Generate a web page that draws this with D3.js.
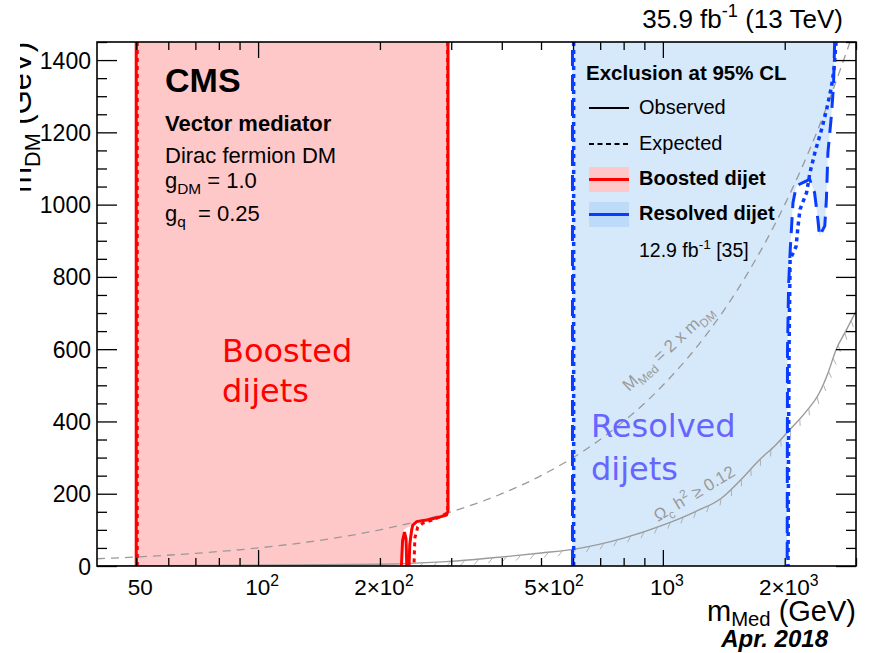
<!DOCTYPE html>
<html>
<head>
<meta charset="utf-8">
<script src="https://cdn.jsdelivr.net/npm/d3@7"></script>
<style>
  body { margin: 0; background: #fff; }
  svg { display: block; font-family: "Liberation Sans", Arial, Helvetica, sans-serif; }
  text { white-space: pre; }
</style>
</head>
<body>
<svg id="chart" width="870" height="653"></svg>
<script>
// ---- axis ranges and ticks ----
const xDomain = [40, 3000];
const yDomain = [0, 1450];
const xMajorTicks = [100, 1000];
const xMinorTicks = [50, 60, 70, 80, 90, 200, 300, 400, 500, 600, 700, 800, 900, 2000, 3000];
const xLabelValues = [50, 100, 200, 500, 1000, 2000];
const xLabelTexts = ["50", "10^2", "2×10^2", "5×10^2", "10^3", "2×10^3"];
const yMajorTicks = [0, 200, 400, 600, 800, 1000, 1200, 1400];
const yMinorTicks = [50, 100, 150, 250, 300, 350, 450, 500, 550, 650, 700, 750, 850, 900, 950,
                     1050, 1100, 1150, 1250, 1300, 1350, 1450];
const yLabelTexts = ["0", "200", "400", "600", "800", "1000", "1200", "1400"];

// ---- boosted dijet limits (m_Med, m_DM) in GeV ----
const boostedFill = [[50, 0], [50, 1450], [294.5, 1450], [294.5, 152], [292, 141], [278, 134],
                     [261, 127.5], [246.5, 123], [239.6, 112], [233, 106], [229, 100], [227, 80], [226, 0]];
const boostedObsLeft = [[50, 0], [50, 1450]];
const boostedObsRight = [[294.5, 1450], [294.5, 152], [292, 141], [278, 134], [261, 127.5],
                         [246.5, 123], [241, 113], [239.6, 100], [237, 60], [236, 0]];
const boostedObsSpike = [[226, 0], [227.5, 70], [230, 94], [232, 75], [233, 0]];
const boostedExpLeft = [[50.3, 0], [50.3, 1450]];
const boostedExpRight = [[294, 1450], [294, 147], [286, 139.5], [270, 127.5], [255.5, 119],
                         [248, 108], [244, 78], [242.7, 0]];

// ---- resolved dijet limits (12.9 fb-1) ----
const resolvedObsLeft = [[598, 0], [598, 1450]];
const resolvedObsRight = [[2657, 1450], [2640, 1330], [2608, 1246], [2557, 1144], [2535, 1015],
                          [2512, 941], [2438, 913], [2415, 959], [2370, 1033], [2305, 1070],
                          [2218, 1061], [2137, 1052], [2096, 1005], [2064, 876], [2045, 780],
                          [2032, 600], [2028, 0]];
const resolvedExpLeft = [[602, 0], [602, 1450]];
const resolvedExpRight = [[2678, 1450], [2647, 1375], [2612, 1329], [2539, 1264], [2468, 1209],
                          [2376, 1145], [2309, 1089], [2266, 1034], [2182, 987], [2157, 940],
                          [2133, 884], [2062, 848], [2050, 600], [2038, 0]];

// ---- reference curves ----
const relicMed = [40, 100, 200, 292, 400, 500, 600, 800, 1000, 1200, 1400, 1550, 1734, 1900,
                  2057, 2250, 2438, 2560, 2680, 2830, 3000];
const relicDM = [0.5, 2, 5, 12, 25, 36, 46, 77, 113, 150, 189, 236, 294, 335, 377, 425, 480,
                 535, 599, 650, 705];
const diagMed = [40, 50, 70, 100, 150, 200, 300, 400, 500, 700, 1000, 1300, 1600, 2000, 2400, 2900];
const diagDM = [20, 25, 35, 50, 75, 100, 150, 200, 250, 350, 500, 650, 800, 1000, 1200, 1450];

// ---- colours ----
const pink = "#ffc8c8", lightBlue = "#d6e9fb", legendBlue = "#bddbf8";
const red = "#ff0000", blue = "#0a3cff", grey = "#9a9a9a";

const svg = d3.select("#chart");
const L = 97, R = 856, T = 42, B = 566;
const x = d3.scaleLog().domain(xDomain).range([L, R]);
const y = d3.scaleLinear().domain(yDomain).range([B, T]);

// rich text with sub/superscripts: parts = [[text, kind], ...]
function rich(sel, parts, fs, subShift) {
  let shift = 0;
  const sub = subShift == null ? 0.28 : subShift;
  parts.forEach(([t, kind]) => {
    const target = kind === "sub" ? sub * fs : kind === "sup" ? -0.42 * fs : 0;
    sel.append("tspan")
      .attr("dy", target - shift)
      .attr("font-size", kind ? fs * 0.7 : fs)
      .text(t);
    shift = target;
  });
  return sel;
}
function parsePow(s) {
  const i = s.indexOf("^");
  return i < 0 ? [[s, ""]] : [[s.slice(0, i), ""], [s.slice(i + 1), "sup"]];
}

svg.append("defs").append("clipPath").attr("id", "plotClip")
  .append("rect").attr("x", L).attr("y", T).attr("width", R - L).attr("height", B - T);
svg.select("defs").append("clipPath").attr("id", "ytClip")
  .append("rect").attr("x", 20).attr("y", 0).attr("width", 60).attr("height", 653);

const plot = svg.append("g").attr("clip-path", "url(#plotClip)");
const line = d3.line().x(d => x(d[0])).y(d => y(d[1]));

// excluded regions
plot.append("path").attr("d", line(boostedFill) + "Z").attr("fill", pink);
const resolvedFill = resolvedObsLeft.concat(resolvedObsRight);
plot.append("path").attr("d", line(resolvedFill) + "Z").attr("fill", lightBlue);

// relic density curve with hatching on the excluded side
const relicPts = relicMed.map((m, i) => [m, relicDM[i]]);
const relicPath = plot.append("path")
  .attr("d", d3.line().x(d => x(d[0])).y(d => y(d[1])).curve(d3.curveMonotoneX)(relicPts))
  .attr("fill", "none").attr("stroke", grey).attr("stroke-width", 1.4);
(function hatch() {
  const node = relicPath.node();
  const len = node.getTotalLength();
  const g = plot.append("g").attr("stroke", "#a8a8a8").attr("stroke-width", 0.9);
  for (let s = 4; s < len - 2; s += 14) {
    const p = node.getPointAtLength(s), q = node.getPointAtLength(s + 1);
    let tx = q.x - p.x, ty = q.y - p.y;
    const n0 = Math.hypot(tx, ty); tx /= n0; ty /= n0;
    const nx = -ty, ny = tx;
    const a = Math.PI / 4, Lh = 7;
    g.append("line").attr("x1", p.x).attr("y1", p.y)
      .attr("x2", p.x + Lh * (-Math.cos(a) * tx + Math.sin(a) * nx))
      .attr("y2", p.y + Lh * (-Math.cos(a) * ty + Math.sin(a) * ny));
  }
})();

// M_Med = 2 m_DM
const diagPts = diagMed.map((m, i) => [m, diagDM[i]]);
plot.append("path")
  .attr("d", d3.line().x(d => x(d[0])).y(d => y(d[1])).curve(d3.curveMonotoneX)(diagPts))
  .attr("fill", "none").attr("stroke", grey).attr("stroke-width", 1.3)
  .attr("stroke-dasharray", "8,6");

// contour lines
function contour(data, color, dash, width) {
  plot.append("path").attr("d", line(data)).attr("fill", "none")
    .attr("stroke", color).attr("stroke-width", width)
    .attr("stroke-dasharray", dash || null);
}
contour(resolvedObsLeft, blue, "16,9", 3);
contour(resolvedObsRight, blue, "16,9", 3);
contour(resolvedExpLeft, blue, "4,4", 3.5);
contour(resolvedExpRight, blue, "4,4", 3.5);
contour(boostedObsLeft, red, null, 3);
contour(boostedObsRight, red, null, 3);
contour(boostedObsSpike, red, null, 3);
contour(boostedExpLeft, red, "4,4", 3);
contour(boostedExpRight, red, "4,4", 3);

// region labels
const dv = "'DejaVu Sans', Verdana, sans-serif";
function bigLabel(xp, yp, txt, color) {
  svg.append("text").attr("x", xp).attr("y", yp).style("font-family", dv)
    .attr("font-size", 32).attr("fill", color).text(txt);
}
bigLabel(222, 362, "Boosted", red);
bigLabel(222, 402, "dijets", red);
bigLabel(591, 437, "Resolved", "#6666ff");
bigLabel(591, 480, "dijets", "#6666ff");

// curve labels
rich(svg.append("text").attr("fill", grey).attr("transform", "translate(629,392) rotate(-43)"),
  [["M", ""], ["Med", "sub"], [" = 2 x m", ""], ["DM", "sub"]], 17);
rich(svg.append("text").attr("fill", grey).attr("transform", "translate(658,522) rotate(-31)"),
  [["Ω", ""], ["c", "sub"], [" h", ""], ["2", "sup"], [" ≥ 0.12", ""]], 17);

// CMS labels
svg.append("text").attr("x", 165).attr("y", 92).attr("font-size", 34).attr("font-weight", "bold").text("CMS");
svg.append("text").attr("x", 165).attr("y", 131).attr("font-size", 22).attr("font-weight", "bold").text("Vector mediator");
svg.append("text").attr("x", 165).attr("y", 163).attr("font-size", 22).text("Dirac fermion DM");
rich(svg.append("text").attr("x", 165).attr("y", 188), [["g", ""], ["DM", "sub"], [" = 1.0", ""]], 22);
rich(svg.append("text").attr("x", 165).attr("y", 221), [["g", ""], ["q", "sub"], ["  = 0.25", ""]], 22);

// legend
const lg = svg.append("g");
lg.append("text").attr("x", 586).attr("y", 80).attr("font-size", 20.5).attr("font-weight", "bold")
  .text("Exclusion at 95% CL");
lg.append("line").attr("x1", 589).attr("x2", 629).attr("y1", 108).attr("y2", 108)
  .attr("stroke", "#000").attr("stroke-width", 2);
lg.append("text").attr("x", 639).attr("y", 114).attr("font-size", 20).text("Observed");
lg.append("line").attr("x1", 589).attr("x2", 629).attr("y1", 144).attr("y2", 144)
  .attr("stroke", "#000").attr("stroke-width", 2).attr("stroke-dasharray", "5,3.5");
lg.append("text").attr("x", 639).attr("y", 150).attr("font-size", 20).text("Expected");
lg.append("rect").attr("x", 589).attr("y", 167).attr("width", 40).attr("height", 25).attr("fill", pink);
lg.append("line").attr("x1", 589).attr("x2", 629).attr("y1", 179.5).attr("y2", 179.5)
  .attr("stroke", red).attr("stroke-width", 3);
lg.append("text").attr("x", 639).attr("y", 185).attr("font-size", 20).attr("font-weight", "bold").text("Boosted dijet");
lg.append("rect").attr("x", 589).attr("y", 202).attr("width", 40).attr("height", 25).attr("fill", legendBlue);
lg.append("line").attr("x1", 589).attr("x2", 629).attr("y1", 214.5).attr("y2", 214.5)
  .attr("stroke", blue).attr("stroke-width", 3);
lg.append("text").attr("x", 639).attr("y", 220).attr("font-size", 20).attr("font-weight", "bold").text("Resolved dijet");
rich(lg.append("text").attr("x", 639).attr("y", 257), [["12.9 fb", ""], ["-1", "sup"], [" [35]", ""]], 19.5);

// ticks
function ticks(axisFn, scale, values, len, transform) {
  const g = svg.append("g").attr("transform", transform)
    .call(axisFn(scale).tickValues(values).tickSize(-len).tickFormat(""));
  g.select(".domain").remove();
  g.selectAll("line").attr("stroke", "#000").attr("stroke-width", 1.3);
}
ticks(d3.axisBottom, x, xMajorTicks, 16, `translate(0,${B})`);
ticks(d3.axisBottom, x, xMinorTicks, 8, `translate(0,${B})`);
ticks(d3.axisTop, x, xMajorTicks, 16, `translate(0,${T})`);
ticks(d3.axisTop, x, xMinorTicks, 8, `translate(0,${T})`);
ticks(d3.axisLeft, y, yMajorTicks, 20, `translate(${L},0)`);
ticks(d3.axisLeft, y, yMinorTicks, 10, `translate(${L},0)`);
ticks(d3.axisRight, y, yMajorTicks, 20, `translate(${R},0)`);
ticks(d3.axisRight, y, yMinorTicks, 10, `translate(${R},0)`);

// frame
svg.append("rect").attr("x", L).attr("y", T).attr("width", R - L).attr("height", B - T)
  .attr("fill", "none").attr("stroke", "#000").attr("stroke-width", 1.6);

// tick labels (labels sit slightly right of their tick, wider ones a little more)
yMajorTicks.forEach((v, i) => {
  svg.append("text").attr("x", 91).attr("y", y(v) + 8.5).attr("text-anchor", "end")
    .attr("font-size", 23).text(yLabelTexts[i]);
});
const labelShift = { 500: 13 };
xLabelValues.forEach((v, i) => {
  rich(svg.append("text").attr("x", x(v) + (labelShift[v] || 4)).attr("y", 595)
    .attr("text-anchor", "middle"), parsePow(xLabelTexts[i]), 22.5);
});

// axis titles
rich(svg.append("text").attr("x", 856).attr("y", 621).attr("text-anchor", "end"),
  [["m", ""], ["Med", "sub"], [" (GeV)", ""]], 29, 0.18);
rich(svg.append("g").attr("clip-path", "url(#ytClip)").append("text")
  .attr("text-anchor", "end").attr("transform", "translate(31,42) rotate(-90)"),
  [["m", ""], ["DM", "sub"], [" (GeV)", ""]], 31);

// top-right luminosity and date
rich(svg.append("text").attr("x", 843).attr("y", 28).attr("text-anchor", "end"),
  [["35.9 fb", ""], ["-1", "sup"], [" (13 TeV)", ""]], 26);
svg.append("text").attr("x", 828).attr("y", 647).attr("text-anchor", "end").attr("font-size", 24)
  .attr("font-weight", "bold").attr("font-style", "italic").text("Apr. 2018");
</script>
</body>
</html>
